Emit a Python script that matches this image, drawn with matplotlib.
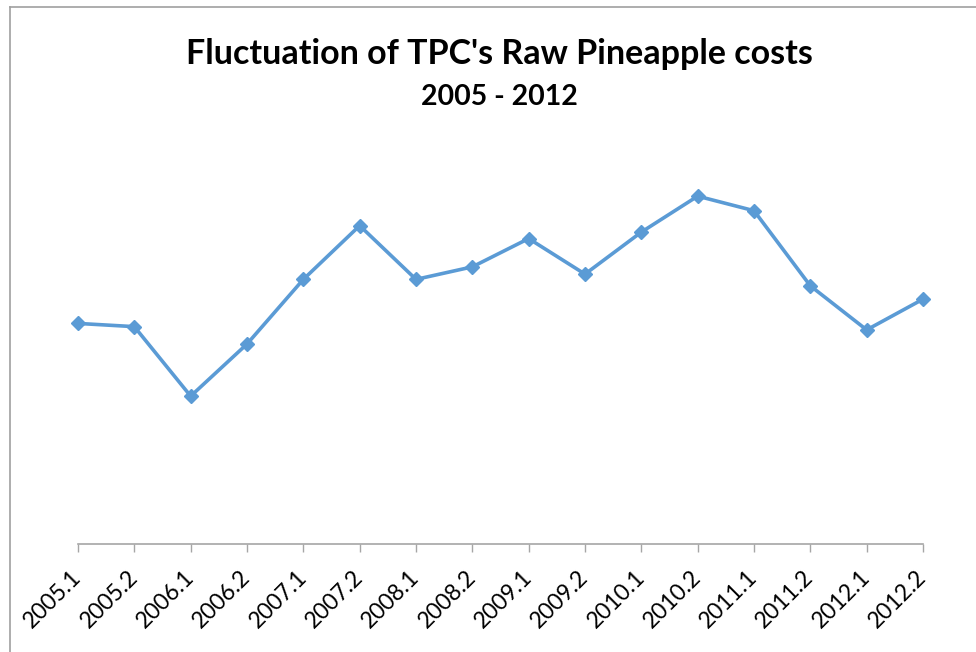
import matplotlib
matplotlib.use("Agg")
import matplotlib.pyplot as plt
from matplotlib.lines import Line2D

categories = ["2005.1", "2005.2", "2006.1", "2006.2", "2007.1", "2007.2", "2008.1", "2008.2",
              "2009.1", "2009.2", "2010.1", "2010.2", "2011.1", "2011.2", "2012.1", "2012.2"]
costs = [5.46, 5.38, 3.66, 4.95, 6.55, 7.88, 6.55, 6.86,
         7.56, 6.68, 7.72, 8.61, 8.25, 6.39, 5.30, 6.06]

title = "Fluctuation of TPC's Raw Pineapple costs"
subtitle = "2005 - 2012"

fig = plt.figure(figsize=(9.76, 6.52), dpi=100)
ax = fig.add_axes([78/976, (652-544)/652, (923-78)/976, (544-140)/652])

x = list(range(len(categories)))
ax.plot(x, costs, color="#5b9bd5", linewidth=2.6, marker="D", markersize=7,
        markeredgecolor="#5b9bd5", markerfacecolor="#5b9bd5", clip_on=False, zorder=3)

ax.set_xlim(0, len(categories) - 1)
ax.set_ylim(0, 10)
ax.set_xticks(x)
ax.set_xticklabels(categories, rotation=45, ha="right", va="center", rotation_mode="anchor",
                   fontsize=16.5, fontfamily="Lato", color="#000000")
ax.tick_params(axis="x", length=5.5, width=1, color="#a6a6a6", direction="out", pad=16)
ax.set_yticks([])
for s in ["top", "right", "left"]:
    ax.spines[s].set_visible(False)
ax.spines["bottom"].set_color("#a6a6a6")
ax.spines["bottom"].set_linewidth(1.2)

fig.text(499/976, 1 - 64.5/652, title, ha="center", va="baseline", fontsize=24.5,
         fontweight="bold", fontfamily="Lato", color="black")
fig.text(499/976, 1 - 105/652, subtitle, ha="center", va="baseline", fontsize=20.5,
         fontweight="bold", fontfamily="Lato", color="black")

# chart area frame (top and left edges visible)
fig.add_artist(Line2D([10/976, 1], [1 - 7/652, 1 - 7/652], transform=fig.transFigure,
                      color="#a0a0a0", linewidth=1.2))
fig.add_artist(Line2D([10/976, 10/976], [0, 1 - 7/652], transform=fig.transFigure,
                      color="#a0a0a0", linewidth=1.2))

fig.savefig("out.png", dpi=100)
